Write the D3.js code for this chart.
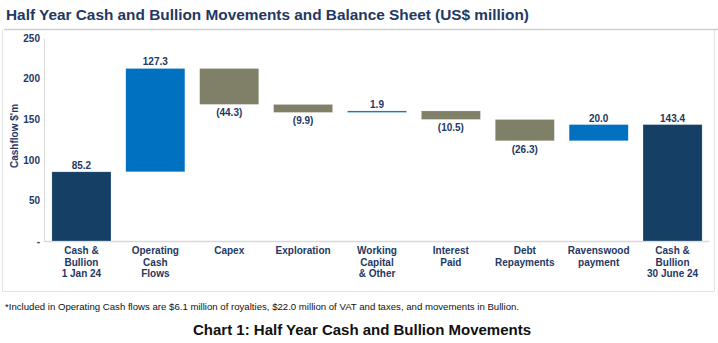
<!DOCTYPE html>
<html>
<head>
<meta charset="utf-8">
<script src="https://cdn.jsdelivr.net/npm/d3@7"></script>
<style>
  body { margin: 0; background: #fff; }
  text { font-family: "Liberation Sans", Arial, sans-serif; }
</style>
</head>
<body>
<div id="body"></div>
<script>
// chart values
var categories = [
  ["Cash &", "Bullion", "1 Jan 24"],
  ["Operating", "Cash", "Flows"],
  ["Capex"],
  ["Exploration"],
  ["Working", "Capital", "& Other"],
  ["Interest", "Paid"],
  ["Debt", "Repayments"],
  ["Ravenswood", "payment"],
  ["Cash &", "Bullion", "30 June 24"]
];
var values = [85.2, 127.3, -44.3, -9.9, 1.9, -10.5, -26.3, 20.0, 143.4];
var kinds = ["total", "up", "down", "down", "up", "down", "down", "up", "total"];
var yTicks = [0, 50, 100, 150, 200, 250];

var width = 718, height = 343;
var navy = "#1F3864";
var colors = { total: "#163F66", up: "#0070C0", down: "#808069" };

var svg = d3.select('#body')
  .append('svg')
  .attr('width', width)
  .attr('height', height);

// title + rule under it
svg.append('text')
  .attr('x', 6).attr('y', 20)
  .attr('font-size', '15.5px')
  .attr('font-weight', 'bold')
  .attr('fill', navy)
  .attr('textLength', 523)
  .attr('lengthAdjust', 'spacingAndGlyphs')
  .text('Half Year Cash and Bullion Movements and Balance Sheet (US$ million)');

svg.append('line')
  .attr('x1', 4).attr('x2', width).attr('y1', 29.5).attr('y2', 29.5)
  .style('stroke', '#cfcfcf').style('stroke-width', '1.5px');

// frame round the plot
svg.append('path')
  .attr('d', 'M2.5,30 V291.5 H714.5 V30')
  .style('fill', 'none')
  .style('stroke', '#e2e2e2')
  .style('stroke-width', '1px');

// scales
var x = d3.scaleBand()
  .domain(d3.range(categories.length))
  .range([44.5, 709.5])
  .paddingInner(0.2)
  .paddingOuter(0.1);

var y = d3.scaleLinear()
  .domain([0, 250])
  .range([241, 38]);

// running totals for the waterfall
var bars = [];
var running = 0;
values.forEach(function(v, i) {
  var lo, hi;
  if (kinds[i] === 'total') { lo = 0; hi = v; running = v; }
  else { lo = running; hi = running + v; running = hi; }
  bars.push({ i: i, v: v, kind: kinds[i], y0: Math.min(lo, hi), y1: Math.max(lo, hi) });
});

var chart = svg.append('g').attr('id', 'chart');

// y axis
var yAxis = d3.axisLeft(y)
  .tickValues(yTicks)
  .tickSize(0)
  .tickPadding(4)
  .tickFormat(function(d) { return d === 0 ? '-' : d; });

var ya = chart.append('g')
  .attr('transform', 'translate(44,0)')
  .call(yAxis);
ya.select('.domain').style('stroke', '#dcdcdc');
ya.selectAll('text')
  .attr('font-size', '10px')
  .attr('font-weight', 'bold')
  .attr('fill', navy)
  .attr('font-family', '"Liberation Sans", Arial, sans-serif');

// baseline
chart.append('line')
  .attr('x1', 44).attr('x2', 709.5)
  .attr('y1', y(0) + 0.5).attr('y2', y(0) + 0.5)
  .style('stroke', '#d9d9d9').style('stroke-width', '1.5px');

// y title
chart.append('text')
  .attr('transform', 'translate(18,136) rotate(-90)')
  .attr('text-anchor', 'middle')
  .attr('font-size', '10px')
  .attr('font-weight', 'bold')
  .attr('fill', navy)
  .text("Cashflow $'m");

// bars
chart.selectAll('.bar')
  .data(bars)
  .enter()
  .append('rect')
  .attr('class', 'bar')
  .attr('x', function(d) { return x(d.i); })
  .attr('width', x.bandwidth())
  .attr('y', function(d) { return y(d.y1); })
  .attr('height', function(d) { return Math.max(1.5, y(d.y0) - y(d.y1)); })
  .style('fill', function(d) { return colors[d.kind]; })
  .style('stroke', 'rgba(255,255,255,0.5)')
  .style('stroke-width', '0.5px');

// value labels
chart.selectAll('.val')
  .data(bars)
  .enter()
  .append('text')
  .attr('class', 'val')
  .attr('x', function(d) { return x(d.i) + x.bandwidth() / 2; })
  .attr('y', function(d) { return d.v < 0 ? y(d.y0) + 12 : y(d.y1) - 3; })
  .attr('text-anchor', 'middle')
  .attr('font-size', '10px')
  .attr('font-weight', 'bold')
  .attr('fill', navy)
  .text(function(d) {
    var s = Math.abs(d.v).toFixed(1);
    return d.v < 0 ? '(' + s + ')' : s;
  });

// category labels
var cat = chart.selectAll('.cat')
  .data(categories)
  .enter()
  .append('text')
  .attr('class', 'cat')
  .attr('text-anchor', 'middle')
  .attr('font-size', '10px')
  .attr('font-weight', 'bold')
  .attr('fill', navy)
  .attr('transform', function(d, i) { return 'translate(' + (x(i) + x.bandwidth() / 2) + ',254)'; });

cat.selectAll('tspan')
  .data(function(d) { return d; })
  .enter()
  .append('tspan')
  .attr('x', 0)
  .attr('dy', function(d, j) { return j === 0 ? 0 : 11.5; })
  .text(function(d) { return d; });

// footnote
svg.append('text')
  .attr('x', 5).attr('y', 310)
  .attr('font-size', '9px')
  .attr('fill', '#111')
  .attr('textLength', 514)
  .attr('lengthAdjust', 'spacingAndGlyphs')
  .text('*Included in Operating Cash flows are $6.1 million of royalties, $22.0 million of VAT and taxes, and movements in Bullion.');

// caption
svg.append('text')
  .attr('x', 362).attr('y', 335)
  .attr('text-anchor', 'middle')
  .attr('font-size', '15px')
  .attr('font-weight', 'bold')
  .attr('fill', '#111')
  .attr('textLength', 338)
  .attr('lengthAdjust', 'spacingAndGlyphs')
  .text('Chart 1: Half Year Cash and Bullion Movements');
</script>
</body>
</html>
